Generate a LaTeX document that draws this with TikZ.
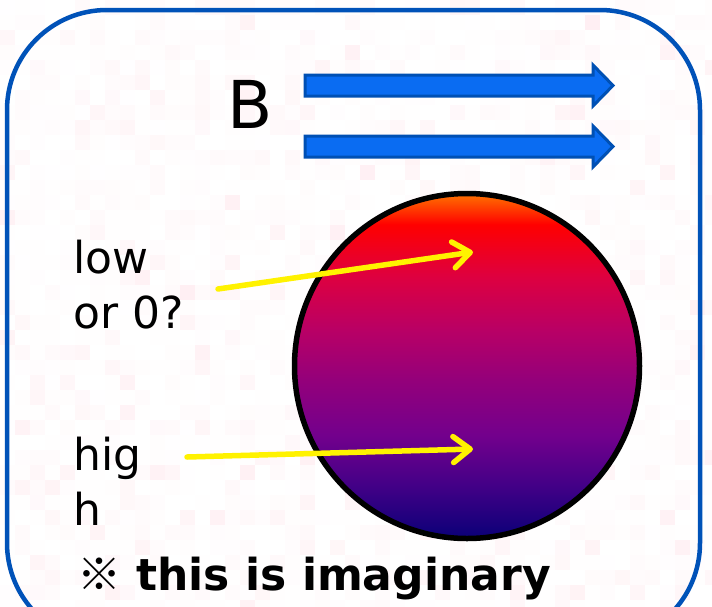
\documentclass[tikz,border=0pt]{standalone}
\usepackage{fontspec}
\setmainfont{DejaVu Sans}
\newfontfamily\cjkfont{Noto Sans CJK JP}
\usetikzlibrary{arrows.meta}
\definecolor{frameblue}{HTML}{0052B8}
\definecolor{arrowfill}{HTML}{0A6CF2}
\definecolor{arrowedge}{HTML}{0050B4}
\definecolor{noisepink}{HTML}{FF6A8A}
\pgfdeclareverticalshading{ballshade}{100bp}{%
  rgb(0bp)=(0.04,0,0.47);
  rgb(25bp)=(0.04,0,0.47);
  rgb(33bp)=(0.27,0,0.53);
  rgb(40bp)=(0.45,0,0.55);
  rgb(48bp)=(0.58,0,0.48);
  rgb(55bp)=(0.72,0,0.40);
  rgb(63bp)=(0.87,0,0.25);
  rgb(70.5bp)=(1,0,0);
  rgb(75bp)=(1,0.45,0);
  rgb(100bp)=(1,0.45,0)}
\tikzset{
  frame/.style={draw=frameblue, line width=4.5pt, rounded corners=100pt},
  fieldarrow/.style={draw=arrowedge, fill=arrowfill, line width=3pt, line join=miter},
  ball/.style={circle, draw=black, line width=5.5pt, minimum size=345pt, inner sep=0pt, shading=ballshade},
  probe/.style={draw=yellow, line width=5.5pt, line cap=round,
    -{Straight Barb[length=17pt, width=26pt, round]}},
  lbl/.style={anchor=base west, inner sep=0pt, align=left,
    font=\fontsize{44}{55}\selectfont},
  bigB/.style={anchor=base west, inner sep=0pt, font=\fontsize{66}{66}\selectfont},
  note/.style={anchor=base west, inner sep=0pt, font=\bfseries\fontsize{44}{55}\selectfont}
}
\begin{document}
\begin{tikzpicture}[x=1pt, y=-1pt]
\useasboundingbox (0,0) rectangle (712,606);
\clip (0,0) rectangle (712,606);
% faint pink noise background
\pgfmathsetseed{7}
\foreach \i in {0,...,47}{
  \foreach \j in {0,...,40}{
    \pgfmathsetmacro\r{14*rnd*rnd*rnd}
    \fill[noisepink!\r!white] (\i*15,\j*15) rectangle ++(15,15);
  }
}
% frame
\draw[frame] (7,10) rectangle (700,643);
% B field
\node[bigB] (bfield) at (227,128) {B};
\draw[fieldarrow] (305,75) -- (593,75) -- (593,65) -- (613,85.5) -- (593,106) -- (593,96) -- (305,96) -- cycle;
\draw[fieldarrow] (305,136) -- (593,136) -- (593,126) -- (613,146.5) -- (593,167) -- (593,157) -- (305,157) -- cycle;
% sphere
\node[ball] (sphere) at (467,366) {};
% labels (base anchor = baseline of the last line)
\node[lbl] (lowlabel) at (73,328) {low\\or 0?};
\node[lbl] (highlabel) at (73,525) {hig\\h};
\node[note] (notelabel) at (77,590) {{\cjkfont ※} this is imaginary};
% probe arrows
\coordinate (lowstart) at (218,289);
\coordinate (lowtarget) at (473,252);
\coordinate (highstart) at (187,457);
\coordinate (hightarget) at (473,449);
\draw[probe] (lowstart) -- (lowtarget);
\draw[probe] (highstart) -- (hightarget);
\end{tikzpicture}
\end{document}
